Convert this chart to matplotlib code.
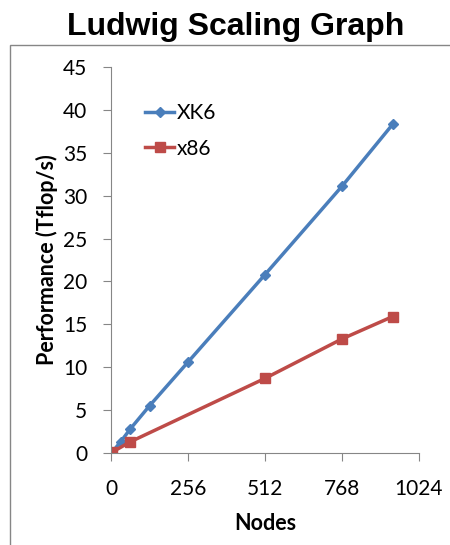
import matplotlib.pyplot as plt
from matplotlib.patches import Rectangle

# data
xk6_nodes = [4, 32, 64, 128, 256, 512, 768, 936]
xk6_perf = [0.1, 1.3, 2.8, 5.5, 10.6, 20.8, 31.1, 38.3]
x86_nodes = [4, 64, 512, 768, 936]
x86_perf = [0.1, 1.3, 8.7, 13.3, 15.9]
x_ticks = [0, 256, 512, 768, 1024]
y_ticks = [0, 5, 10, 15, 20, 25, 30, 35, 40, 45]

blue = '#4A7EBB'
red = '#BE4B48'
grey = '#868686'

fig = plt.figure(figsize=(4.5, 5.45), dpi=100)

# outer chart border
fig.patches.append(Rectangle((10/450, -0.05), 1.0, 0.05 + 1 - 45/545, transform=fig.transFigure,
                             fill=False, edgecolor=grey, linewidth=1.0))

ax = fig.add_axes([111/450, 1 - 453/545, 308/450, 386/545])
ax.plot(xk6_nodes, xk6_perf, color=blue, lw=2.5, marker='D', ms=5.5, label='XK6')
ax.plot(x86_nodes, x86_perf, color=red, lw=2.5, marker='s', ms=7.5, label='x86')

ax.set_xlim(0, 1024)
ax.set_ylim(0, 45)
ax.set_xticks(x_ticks)
ax.set_yticks(y_ticks)
ax.spines['top'].set_visible(False)
ax.spines['right'].set_visible(False)
for s in ('left', 'bottom'):
    ax.spines[s].set_color(grey)
ax.tick_params(colors=grey, length=6, labelsize=15, labelcolor='black')
ax.tick_params(axis='x', pad=13)
ax.tick_params(axis='y', pad=11)
for lab in ax.get_xticklabels() + ax.get_yticklabels():
    lab.set_family('Lato')

ax.set_xlabel('Nodes', fontsize=15.5, fontweight='bold', family='Lato', labelpad=10)
ax.set_ylabel('Performance (Tflop/s)', fontsize=15.5, fontweight='bold', family='Lato', labelpad=4)

leg = ax.legend(loc='upper left', bbox_to_anchor=(0.05, 0.955), frameon=False,
                prop={'family': 'Lato', 'size': 15}, handlelength=1.4, handletextpad=0.1,
                labelspacing=0.75)

fig.text(236/450, 1 - 27/545, 'Ludwig Scaling Graph', ha='center', va='center',
         fontsize=23, fontweight='bold', family='Liberation Sans')

fig.savefig('out.png', dpi=100)
